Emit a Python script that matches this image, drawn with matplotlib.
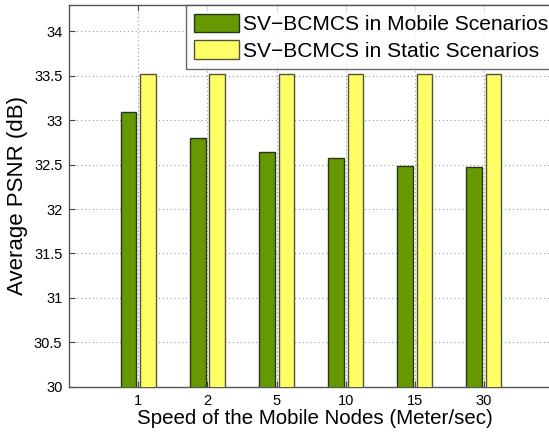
import numpy as np
import matplotlib.pyplot as plt

plt.rcParams['font.family'] = ['Liberation Sans', 'DejaVu Sans']

# data
speeds = ['1', '2', '5', '10', '15', '30']
psnr_mobile = [33.09, 32.805, 32.643, 32.57, 32.483, 32.47]
psnr_static = [33.52, 33.52, 33.52, 33.52, 33.52, 33.52]
y_ticks = [30, 30.5, 31, 31.5, 32, 32.5, 33, 33.5, 34]
y_tick_labels = ['30', '30.5', '31', '31.5', '32', '32.5', '33', '33.5', '34']

fig = plt.figure(figsize=(5.49, 4.34), dpi=100)
# right edge of the axes falls outside the picture, like the reference
unit = 69.1
x_max = 7.1
ax = fig.add_axes([69.3 / 549, 47.3 / 434, x_max * unit / 549, 382 / 434])

x = np.arange(1, len(speeds) + 1)
w = 0.225
off = 0.14
ax.bar(x - off, psnr_mobile, width=w, color='#669900', edgecolor='#2b3320',
       linewidth=1.0, label='SV\u2212BCMCS in Mobile Scenarios', zorder=3)
ax.bar(x + off, psnr_static, width=w, color='#ffff66', edgecolor='#55553a',
       linewidth=1.0, label='SV\u2212BCMCS in Static Scenarios', zorder=3)

ax.set_xlim(0, x_max)
ax.set_ylim(30, 34.3)
ax.set_xticks(x)
ax.set_xticklabels(speeds)
ax.set_yticks(y_ticks)
ax.set_yticklabels(y_tick_labels)
ax.tick_params(direction='in', top=True, right=True, labelsize=10.5, length=4,
               color='#444444', pad=5)
ax.grid(True, linestyle=(0, (1, 2.5)), color='#9a9a9a', linewidth=0.8, zorder=0)
for s in ax.spines.values():
    s.set_color('#555555')
    s.set_linewidth(1.0)

ax.set_xlabel('Speed of the Mobile Nodes (Meter/sec)', fontsize=14.8, labelpad=1)
ax.set_ylabel('Average PSNR (dB)', fontsize=16, labelpad=4)

leg = ax.legend(loc='upper left', bbox_to_anchor=(185.7 / 549, 1 - 5.3 / 434),
                bbox_transform=fig.transFigure, fontsize=15.1, frameon=True,
                fancybox=False, borderaxespad=0, handlelength=2.15,
                handleheight=0.97, handletextpad=0.2, labelspacing=0.3,
                borderpad=0.4)
leg.get_frame().set_edgecolor('#444444')
leg.get_frame().set_linewidth(1.0)
leg.set_zorder(5)

fig.savefig('out.png', dpi=100)
